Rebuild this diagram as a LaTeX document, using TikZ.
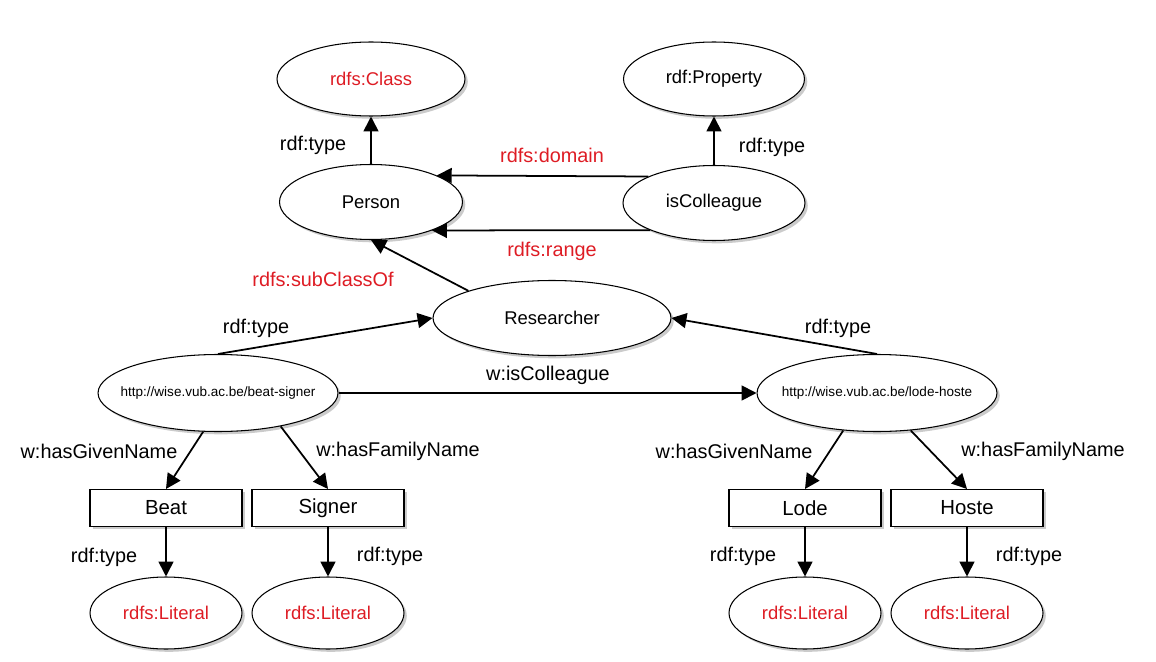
\documentclass[tikz,border=0pt]{standalone}
\usepackage{fontspec}
\setmainfont{Liberation Sans}
\usetikzlibrary{arrows.meta, shapes.geometric, shadows}
\definecolor{rdfred}{RGB}{222,28,36}

\tikzset{
  shade/.style={drop shadow={shadow xshift=1.6pt, shadow yshift=-1.6pt, fill=black!45, opacity=0.45}},
  res/.style={ellipse, draw, line width=0.6pt, fill=white, inner sep=0pt, shade,
              minimum height=1.5cm, font=\fontsize{10.5}{12}\selectfont},
  uri/.style={res, inner xsep=-7.5pt, minimum width=4.8cm, minimum height=1.54cm, font=\fontsize{7.7}{9}\selectfont},
  litbox/.style={rectangle, draw, line width=0.6pt, fill=white, inner sep=0pt, shade,
                 minimum width=3.04cm, minimum height=0.74cm, font=\fontsize{11.6}{13}\selectfont},
  litcls/.style={res, minimum width=3.04cm, minimum height=1.44cm, text=rdfred},
  lbl/.style={font=\fontsize{11.3}{13}\selectfont},
  redlbl/.style={lbl, text=rdfred},
  rel/.style={-{Triangle[length=8.5pt,width=8.5pt]}, line width=1pt},
}

\begin{document}
\begin{tikzpicture}[x=0.02cm, y=-0.02cm]
  \useasboundingbox (0,0) rectangle (1156,662);

  % schema level
  \node[res, minimum width=3.76cm, minimum height=1.48cm, text=rdfred] (class) at (371,79) {rdfs:Class};
  \node[res, minimum width=3.62cm, minimum height=1.48cm] (prop) at (714,79) {rdf:Property};
  \node[res, minimum width=3.66cm] (person) at (371,202) {Person};
  \node[res, minimum width=3.64cm] (iscol) at (714,203) {isColleague};
  \node[res, minimum width=4.76cm] (researcher) at (552,318) {Researcher};

  \draw[rel] (person) -- (class);
  \node[lbl] (t1) at (313,145) {rdf:type};
  \draw[rel] (iscol) -- (prop);
  \node[lbl] (t2) at (772,147) {rdf:type};
  \draw[rel] (iscol.158) -- (person.22);
  \node[redlbl] (dom) at (552,155) {rdfs:domain};
  \draw[rel] (iscol.-157) -- (person.-25);
  \node[redlbl] (rng) at (552,251) {rdfs:range};
  \draw[rel] (researcher.162) -- (person.south);
  \node[redlbl] (sub) at (323,279) {rdfs:subClassOf};

  % instance level
  \node[uri] (beatsigner) at (218,393) {http://wise.vub.ac.be/beat-signer};
  \node[uri] (lodehoste) at (877,393) {http://wise.vub.ac.be/lode-hoste};

  \draw[rel] (beatsigner.north) -- (researcher.west);
  \node[lbl] (t3) at (256,328) {rdf:type};
  \draw[rel] (lodehoste.north) -- (researcher.east);
  \node[lbl] (t4) at (838,328) {rdf:type};
  \draw[rel] (beatsigner) -- (lodehoste);
  \node[lbl] (col) at (548,375) {w:isColleague};

  % literals
  \node[litbox] (beat) at (166,508) {Beat};
  \node[litbox] (signer) at (328,508) {Signer};
  \node[litbox] (lode) at (805,508) {Lode};
  \node[litbox] (hoste) at (967,508) {Hoste};

  \draw[rel] (beatsigner.-111) -- (beat.north);
  \node[lbl] (g1) at (99,451) {w:hasGivenName};
  \draw[rel] (beatsigner.-28) -- (signer.north);
  \node[lbl] (f1) at (398,451) {w:hasFamilyName};
  \draw[rel] (lodehoste.-132) -- (lode.north);
  \node[lbl] (g2) at (734,451) {w:hasGivenName};
  \draw[rel] (lodehoste.-48) -- (hoste.north);
  \node[lbl] (f2) at (1043,451) {w:hasFamilyName};

  \node[litcls] (lit1) at (166,613) {rdfs:Literal};
  \node[litcls] (lit2) at (328,613) {rdfs:Literal};
  \node[litcls] (lit3) at (805,613) {rdfs:Literal};
  \node[litcls] (lit4) at (967,613) {rdfs:Literal};

  \draw[rel] (beat) -- (lit1);
  \node[lbl] (t5) at (104,557) {rdf:type};
  \draw[rel] (signer) -- (lit2);
  \node[lbl] (t6) at (390,556) {rdf:type};
  \draw[rel] (lode) -- (lit3);
  \node[lbl] (t7) at (743,556) {rdf:type};
  \draw[rel] (hoste) -- (lit4);
  \node[lbl] (t8) at (1029,556) {rdf:type};
\end{tikzpicture}
\end{document}
